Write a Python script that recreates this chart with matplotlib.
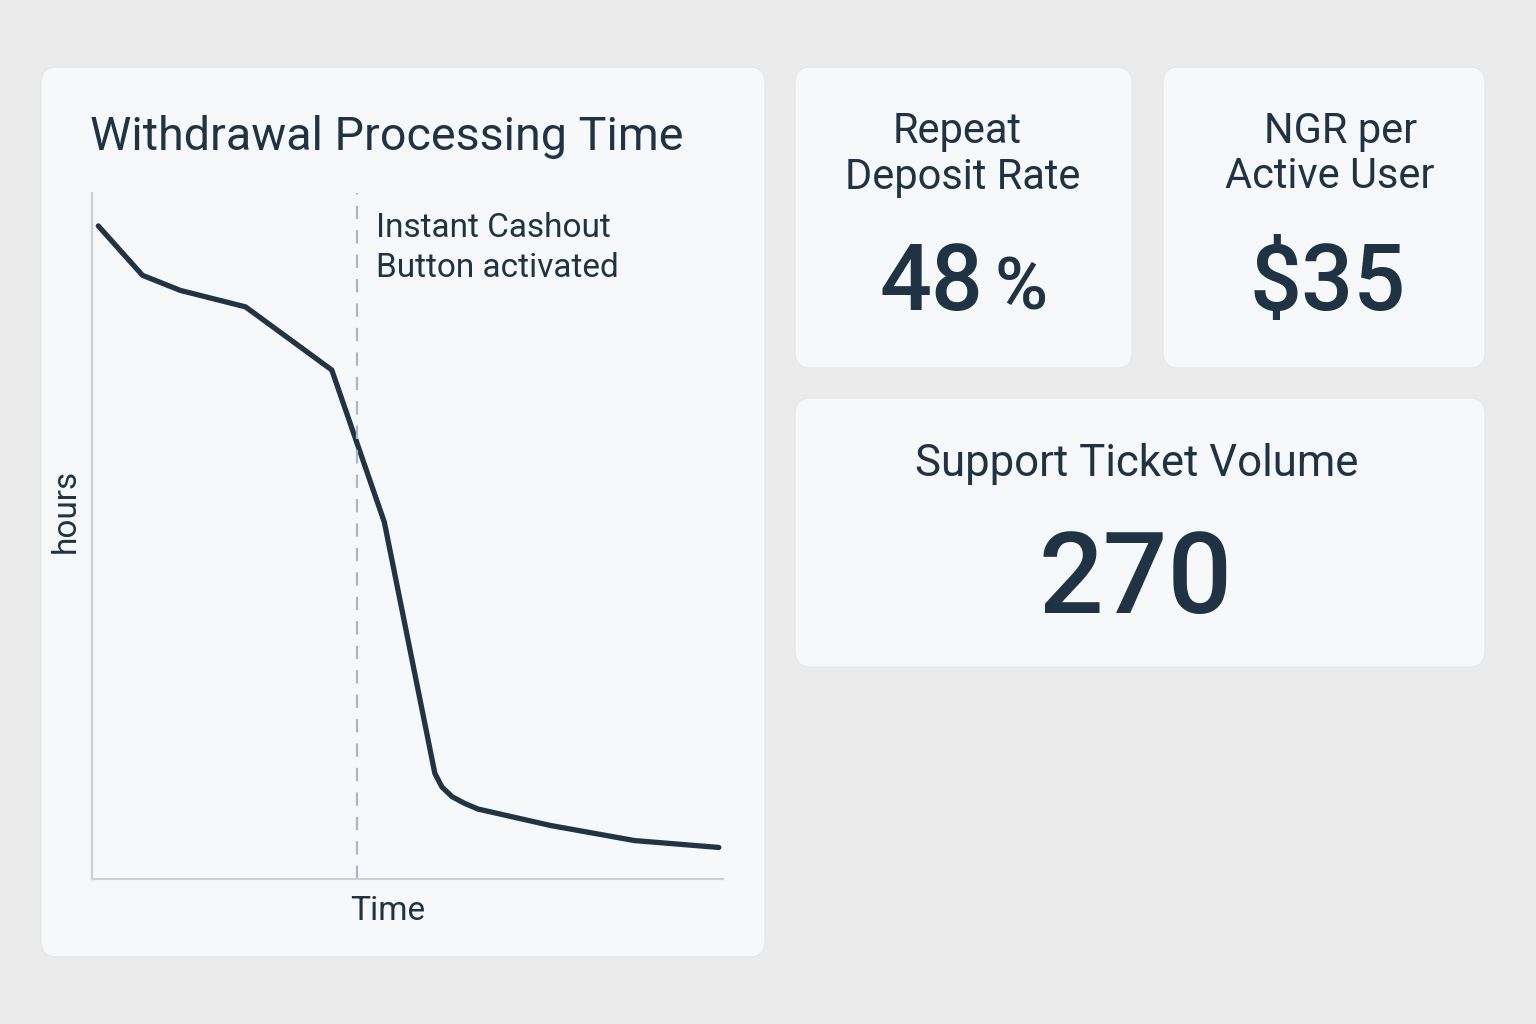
import matplotlib
matplotlib.use("Agg")
import matplotlib.pyplot as plt
from matplotlib.patches import FancyBboxPatch

# ---- data ----
time_days = [0.3, 2.4, 4.2, 7.3, 11.4, 13.9, 16.3, 16.64, 17.12, 17.73, 18.35, 21.8, 25.8, 29.8]
hours = [47.6, 44.0, 42.9, 41.7, 37.1, 26.0, 7.7, 6.7, 6.0, 5.5, 5.1, 3.9, 2.8, 2.3]
launch_day = 12.6
chart_title = "Withdrawal Processing Time"
annotation_lines = ["Instant Cashout", "Button activated"]
kpi1_lines = ["Repeat", "Deposit Rate"]
kpi2_lines = ["NGR per", "Active User"]
kpi3_title = "Support Ticket Volume"
kpi_values = ["48", "$35", "270"]

plt.rcParams['font.family'] = ['Roboto', 'DejaVu Sans']
TXT = '#1f3344'
BG = '#ebebeb'
CARD = '#f7f8f9'

fig = plt.figure(figsize=(15.36, 10.24), dpi=100)
fig.patch.set_facecolor(BG)

bg = fig.add_axes([0, 0, 1, 1])
bg.set_xlim(0, 1536)
bg.set_ylim(1024, 0)
bg.axis('off')

def card(x0, y0, x1, y1):
    r = 16
    bg.add_patch(FancyBboxPatch((x0 + r, y0 + r), (x1 - x0) - 2 * r, (y1 - y0) - 2 * r,
                                boxstyle=f"round,pad={r}", fc=CARD, ec='#e6e7e9', lw=0.8))

card(41, 67, 765, 957)
card(795, 67, 1132, 368)
card(1163, 67, 1485, 368)
card(795, 398, 1485, 667)

# titles
bg.text(90, 150, chart_title, fontsize=33.6, color=TXT, ha='left', va='baseline')
bg.text(957, 131, kpi1_lines[0], fontsize=30, color=TXT, ha='center', va='center')
bg.text(963, 177, kpi1_lines[1], fontsize=30, color=TXT, ha='center', va='center')
bg.text(1341, 131, kpi2_lines[0], fontsize=30, color=TXT, ha='center', va='center')
bg.text(1330, 177, kpi2_lines[1], fontsize=30, color=TXT, ha='center', va='center')
bg.text(1137, 464, kpi3_title, fontsize=31.5, color=TXT, ha='center', va='center')

# values
bg.text(983, 310, kpi_values[0], fontsize=66, color=TXT, ha='right', va='baseline', fontweight='medium')
bg.text(994, 310, "%", fontsize=52, color=TXT, ha='left', va='baseline', fontweight='medium')
bg.text(1328, 310, kpi_values[1], fontsize=66, color=TXT, ha='center', va='baseline', fontweight='medium')
bg.text(1136, 613, kpi_values[2], fontsize=82, color=TXT, ha='center', va='baseline', fontweight='medium')

# annotation
bg.text(376, 228, annotation_lines[0], fontsize=24, color=TXT, ha='left', va='center')
bg.text(376, 268, annotation_lines[1], fontsize=24, color=TXT, ha='left', va='center')

# chart
ax = fig.add_axes([92 / 1536, (1024 - 879) / 1024, (723 - 92) / 1536, (879 - 193) / 1024])
ax.set_facecolor('none')
ax.plot(time_days, hours, color='#223443', lw=3.8, solid_capstyle='round', solid_joinstyle='round')
ax.axvline(launch_day, color='#a9b8c8', lw=1.6, ls=(0, (6, 5)))
ax.set_xlim(0, 30)
ax.set_ylim(0, 50)
for s in ['top', 'right']:
    ax.spines[s].set_visible(False)
for s in ['left', 'bottom']:
    ax.spines[s].set_color('#cdd1d5')
    ax.spines[s].set_linewidth(1.6)
ax.set_xticks([])
ax.set_yticks([])
ax.set_xlabel("Time", fontsize=24, color=TXT)
ax.set_ylabel("hours", fontsize=24, color=TXT)
ax.xaxis.set_label_coords((388 - 92) / 631, -(911 - 879) / 686, transform=ax.transAxes)
ax.xaxis.label.set_va('center')
ax.yaxis.set_label_coords(-(92 - 66) / 631, (879 - 511) / 686, transform=ax.transAxes)
ax.yaxis.label.set_va('center')

fig.savefig("out.png", dpi=100, facecolor=BG)
